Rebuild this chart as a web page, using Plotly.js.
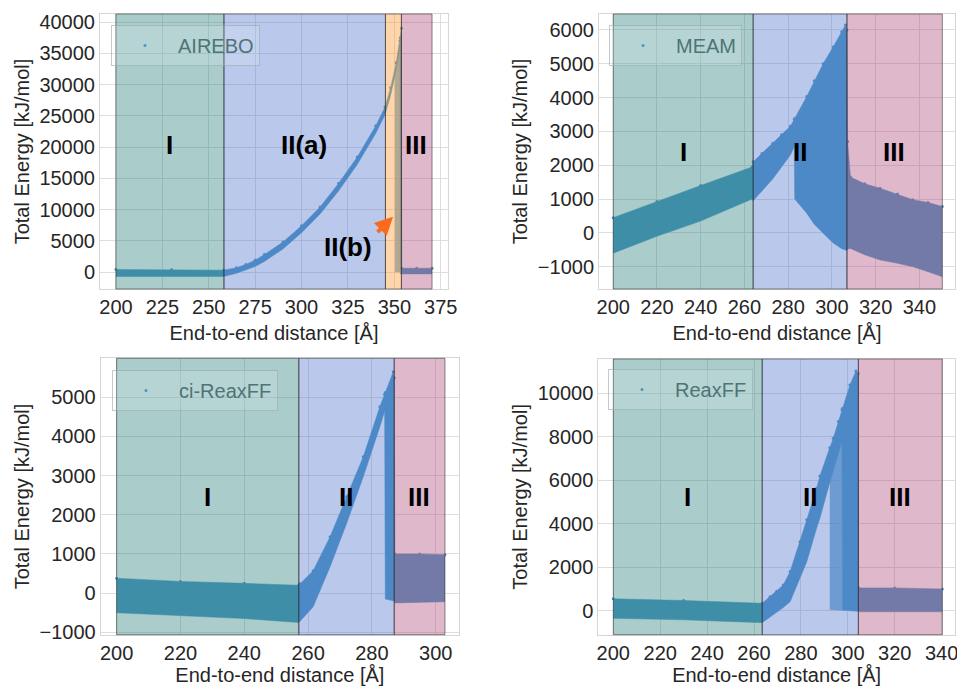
<!DOCTYPE html>
<html><head><meta charset="utf-8">
<script src="https://cdn.plot.ly/plotly-3.0.1.min.js"></script>
<style>html,body{margin:0;padding:0;background:#fff;} #chart{width:957px;height:686px;}</style>
</head><body><div id="chart"></div>
<script>
// ---------------- DATA ----------------
// AIREBO
const airebo_x     = [200, 230, 258, 265, 270, 275, 280, 290, 300, 310, 320, 330, 340, 345, 348, 351, 353.0, 353.2, 353.8, 354.0, 362, 370.3];
const airebo_upper = [400, 350, 300, 700, 1200, 1900, 2800, 4800, 7400, 10400, 14200, 18400, 23400, 26400, 29500, 33500, 37000, 37500, 39000, 600, 600, 600];
const airebo_lower = [-700, -700, -700, -200, 300, 900, 1700, 3700, 6300, 9300, 13000, 17200, 22200, 25200, 28300, 32300, 35800, -300, -300, -300, -300, -300];
const airebo_streak_x     = [350.3, 352.5, 353.2];
const airebo_streak_upper = [31500, 35000, 36500];
const airebo_streak_lower = [0, 0, 0];
const airebo_regions = [200, 258.2, 345.2, 353.8, 370.3];
const airebo_region_names = ['I', 'II(a)', 'II(b)', 'III'];

// MEAM
const meam_x     = [200, 220, 240, 263.5, 264, 268, 273, 277, 281, 282.8, 283, 288.5, 292, 296, 300.6, 304.5, 306.2, 306.9, 307.2, 308.5, 315, 322, 330, 337, 344, 350.5];
const meam_upper = [450, 930, 1400, 1950, 2100, 2350, 2650, 2900, 3150, 3350, 3380, 4030, 4500, 5000, 5500, 5950, 6150, 6000, 2700, 1650, 1450, 1320, 1150, 980, 900, 780];
const meam_lower = [-600, -100, 350, 1000, 950, 1250, 1600, 1950, 2300, 2550, 1000, 580, 250, -10, -300, -470, -520, -520, -480, -460, -650, -800, -900, -1000, -1150, -1300];
const meam_regions = [200, 264.0, 306.9, 350.5];
const meam_region_names = ['I', 'II', 'III'];

// ci-ReaxFF
const cireax_x     = [200, 220, 240, 257, 257.5, 261.6, 266.9, 272.1, 277.3, 282.5, 284.0, 284.2, 286.7, 287.0, 287.2, 295, 302.9];
const cireax_upper = [380, 300, 250, 200, 240, 574, 1443, 2463, 3484, 4760, 5080, 5120, 5654, 5500, 1000, 1000, 980];
const cireax_lower = [-500, -580, -650, -750, -720, -346, 676, 1783, 2973, 4250, 4650, -150, -180, -200, -250, -240, -220];
const cireax_regions = [200, 257.1, 287.0, 302.9];
const cireax_region_names = ['I', 'II', 'III'];

// ReaxFF
const reax_x     = [200, 230, 263.5, 266.8, 269.7, 272.5, 275.4, 279.6, 282.5, 286.7, 288.1, 292.3, 293.8, 296, 297.5, 297.7, 300.9, 303.5, 304.4, 304.6, 320, 340.3];
const reax_upper = [550, 470, 340, 645, 900, 1183, 1800, 3175, 4180, 5633, 6200, 7500, 7934, 8700, 9250, 9300, 10387, 11031, 10900, 1050, 1050, 1000];
const reax_lower = [-350, -420, -550, -300, -46, 150, 414, 1500, 2255, 3800, 4252, 5900, 6450, 7300, 7800, 20, 0, 0, -30, -50, -60, -50];
const reax_streak_x     = [292.3, 294, 296, 297.7];
const reax_streak_upper = [6200, 7000, 7600, 8000];
const reax_streak_lower = [50, 30, 20, 20];
const reax_regions = [200, 263.5, 304.5, 340.3];
const reax_region_names = ['I', 'II', 'III'];

const series_names = ['AIREBO', 'MEAM', 'ci-ReaxFF', 'ReaxFF'];

// ---------------- STYLE ----------------
const FONT = 'Liberation Sans, Arial, sans-serif';
const PT = 'rgb(75,150,195)';
const PT_SPARSE = 'rgba(75,150,195,0.7)';
const COL = {
  'I': 'rgba(42,130,127,0.4)',
  'II': 'rgba(80,117,205,0.4)',
  'II(a)': 'rgba(80,117,205,0.4)',
  'II(b)': 'rgba(255,150,45,0.4)',
  'III': 'rgba(175,80,125,0.4)'
};

const traces = [];
function band(n, xs, up, lo, color) {
  traces.push({x: xs, y: lo, xaxis: 'x' + n, yaxis: 'y' + n, mode: 'lines',
    line: {width: 0.5, color: color}, showlegend: false, hoverinfo: 'skip'});
  traces.push({x: xs, y: up, xaxis: 'x' + n, yaxis: 'y' + n, mode: 'lines',
    line: {width: 0.5, color: color}, fill: 'tonexty', fillcolor: color, showlegend: false, hoverinfo: 'skip'});
}
function legendDots(n, xs, up, name) {
  traces.push({x: xs, y: up, xaxis: 'x' + n, yaxis: 'y' + n, mode: 'markers',
    marker: {size: 3, color: PT}, name: name, legend: n === 1 ? 'legend' : 'legend' + n});
}
band(1, airebo_streak_x, airebo_streak_upper, airebo_streak_lower, PT_SPARSE);
band(1, airebo_x, airebo_upper, airebo_lower, PT);
legendDots(1, airebo_x, airebo_upper, series_names[0]);
band(2, meam_x, meam_upper, meam_lower, PT);
legendDots(2, meam_x, meam_upper, series_names[1]);
band(3, cireax_x, cireax_upper, cireax_lower, PT);
legendDots(3, cireax_x, cireax_upper, series_names[2]);
band(4, reax_streak_x, reax_streak_upper, reax_streak_lower, PT_SPARSE);
band(4, reax_x, reax_upper, reax_lower, PT);
legendDots(4, reax_x, reax_upper, series_names[3]);

// shapes (region spans)
const shapes = [];
function spans(n, bounds, names) {
  for (let i = 0; i < names.length; i++) {
    shapes.push({type: 'rect', xref: 'x' + (n === 1 ? '' : n), yref: 'y' + (n === 1 ? '' : n) + ' domain',
      x0: bounds[i], x1: bounds[i + 1], y0: 0, y1: 1,
      fillcolor: COL[names[i]], line: {color: 'rgba(40,40,40,0.55)', width: 1}, layer: 'above'});
  }
}
spans(1, airebo_regions, airebo_region_names);
spans(2, meam_regions, meam_region_names);
spans(3, cireax_regions, cireax_region_names);
spans(4, reax_regions, reax_region_names);

// region labels
const annotations = [];
function lab(n, text, x, y) {
  annotations.push({xref: 'x' + (n === 1 ? '' : n), yref: 'y' + (n === 1 ? '' : n), x: x, y: y,
    text: '<b>' + text + '</b>', showarrow: false, font: {family: FONT, size: 26, color: '#000'}});
}
lab(1, airebo_region_names[0], 229.1, 20300);
lab(1, airebo_region_names[1], 301.2, 20300);
lab(1, airebo_region_names[3], 361.9, 20300);
lab(1, airebo_region_names[2], 325.1, 4050);
annotations.push({xref: 'x', yref: 'y', x: 349.3, y: 8850, ax: -17, ay: 17, text: '',
  showarrow: true, arrowcolor: '#f86a1c', arrowwidth: 4, arrowhead: 2, arrowsize: 0.9, standoff: 0});
lab(2, meam_region_names[0], 232.3, 2400);
lab(2, meam_region_names[1], 285.4, 2400);
lab(2, meam_region_names[2], 328.5, 2400);
lab(3, cireax_region_names[0], 228.4, 2462);
lab(3, cireax_region_names[1], 271.9, 2462);
lab(3, cireax_region_names[2], 294.9, 2462);
lab(4, reax_region_names[0], 231.6, 5219);
lab(4, reax_region_names[1], 283.9, 5219);
lab(4, reax_region_names[2], 322.3, 5219);

const W = 957, H = 686;
function axX(px0, px1, range, dtick, anchor) {
  return {domain: [px0 / W, px1 / W], range: range, dtick: dtick, tick0: 0, anchor: anchor,
    tickformat: 'd', showgrid: true, gridcolor: '#dedede', gridwidth: 1, zeroline: false,
    showline: true, mirror: true, linecolor: '#d6d6d6', linewidth: 1, ticks: '',
    ticklabeloverflow: 'allow',
    tickfont: {family: FONT, size: 20, color: '#262626'},
    title: {text: 'End-to-end distance [Å]', font: {family: FONT, size: 20, color: '#262626'}, standoff: 8}};
}
function axY(py0, py1, range, dtick, anchor) {
  return {domain: [1 - py1 / H, 1 - py0 / H], range: range, dtick: dtick, tick0: 0, anchor: anchor,
    tickformat: 'd', showgrid: true, gridcolor: '#dedede', gridwidth: 1, zeroline: false,
    showline: true, mirror: true, linecolor: '#d6d6d6', linewidth: 1, ticks: '',
    ticklabeloverflow: 'allow',
    tickfont: {family: FONT, size: 20, color: '#262626'},
    title: {text: 'Total Energy [kJ/mol]', font: {family: FONT, size: 20, color: '#262626'}, standoff: 4}};
}
function leg(px, py, color) {
  return {x: px / W, y: 1 - py / H, xanchor: 'left', yanchor: 'top', bgcolor: 'rgba(255,255,255,0.15)',
    bordercolor: 'rgba(150,170,170,0.6)', borderwidth: 1, itemwidth: 56,
    font: {family: FONT, size: 20, color: color}};
}

const layout = {
  width: W, height: H, margin: {l: 0, r: 0, t: 0, b: 0},
  paper_bgcolor: '#fff', plot_bgcolor: '#fff', showlegend: true,
  font: {family: FONT, color: '#262626'},
  xaxis: axX(100, 448, [191.4, 378.9], 25, 'y'),
  yaxis: axY(14, 289, [-2720, 41280], 5000, 'x'),
  xaxis2: axX(599, 955, [193.5, 356.3], 20, 'y2'),
  yaxis2: axY(14, 289, [-1660, 6473], 1000, 'x2'),
  xaxis3: axX(100.7, 459, [195, 307.3], 20, 'y3'),
  yaxis3: axY(358.3, 634.7, [-1061, 5996], 1000, 'x3'),
  xaxis4: axX(598.3, 955, [193.6, 345.7], 20, 'y4'),
  yaxis4: axY(359, 634.7, [-1104, 11580], 2000, 'x4'),
  legend: leg(111, 25, '#4e7474'),
  legend2: leg(609, 25, '#4e7474'),
  legend3: leg(112, 370, '#4e7474'),
  legend4: leg(608, 369, '#4e7474'),
  shapes: shapes,
  annotations: annotations
};

Plotly.newPlot('chart', traces, layout, {staticPlot: true});
</script></body></html>
